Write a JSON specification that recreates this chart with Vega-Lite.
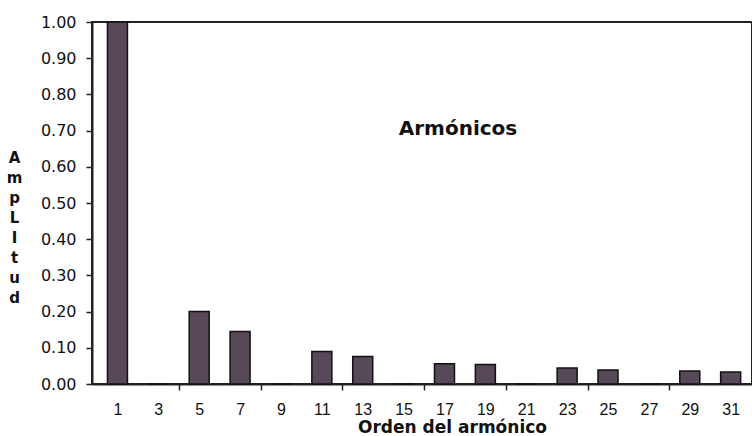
{
  "$schema": "https://vega.github.io/schema/vega-lite/v6.json",
  "width": 660,
  "height": 362,
  "autosize": {"type": "none"},
  "padding": {"left": 92, "top": 22, "right": 0, "bottom": 52},
  "background": "white",
  "title": {
    "text": "Armónicos",
    "font": "DejaVu Sans",
    "fontSize": 20,
    "fontWeight": "bold",
    "color": "#111",
    "anchor": "middle",
    "frame": "group",
    "dx": 36,
    "offset": -141,
    "baseline": "alphabetic"
  },
  "config": {"view": {"stroke": "#222", "strokeWidth": 2}},
  "data": {
    "values": [
      {"orden": 1, "amplitud": 1.0},
      {"orden": 3, "amplitud": 0},
      {"orden": 5, "amplitud": 0.20},
      {"orden": 7, "amplitud": 0.145},
      {"orden": 9, "amplitud": 0},
      {"orden": 11, "amplitud": 0.09},
      {"orden": 13, "amplitud": 0.076},
      {"orden": 15, "amplitud": 0},
      {"orden": 17, "amplitud": 0.056},
      {"orden": 19, "amplitud": 0.054},
      {"orden": 21, "amplitud": 0},
      {"orden": 23, "amplitud": 0.044},
      {"orden": 25, "amplitud": 0.039},
      {"orden": 27, "amplitud": 0},
      {"orden": 29, "amplitud": 0.036},
      {"orden": 31, "amplitud": 0.033}
    ]
  },
  "mark": {"type": "bar", "size": 20, "fill": "#574957", "stroke": "#111", "strokeWidth": 1.5},
  "encoding": {
    "x": {
      "field": "orden",
      "type": "quantitative",
      "scale": {"domain": [0, 31.8], "nice": false, "zero": false},
      "axis": {
        "values": [1, 3, 4, 5, 7, 8, 9, 11, 12, 13, 15, 16, 17, 19, 20, 21, 23, 24, 25, 27, 28, 29, 31],
        "labelExpr": "datum.value % 4 === 0 ? '' : datum.label",
        "tickOpacity": {"condition": {"test": "datum.value % 4 === 0", "value": 1}, "value": 0},
        "tickSize": 6,
        "tickWidth": 1.5,
        "tickColor": "#222",
        "domainColor": "#222",
        "domainWidth": 2,
        "grid": false,
        "labelFont": "Liberation Sans",
        "labelFontSize": 16,
        "labelColor": "#111",
        "labelPadding": 11,
        "labelOverlap": false,
        "labelFlush": false,
        "title": "Orden del armónico",
        "titleFont": "DejaVu Sans",
        "titleFontSize": 17,
        "titleFontWeight": "bold",
        "titleColor": "#111",
        "titleX": 360,
        "titleY": 43,
        "titleBaseline": "middle",
        "titleAlign": "center"
      }
    },
    "y": {
      "field": "amplitud",
      "type": "quantitative",
      "scale": {"domain": [0, 1], "nice": false},
      "axis": {
        "values": [0, 0.1, 0.2, 0.3, 0.4, 0.5, 0.6, 0.7, 0.8, 0.9, 1.0],
        "format": ".2f",
        "tickSize": 6,
        "tickWidth": 1.5,
        "tickColor": "#222",
        "domainColor": "#222",
        "domainWidth": 2,
        "grid": false,
        "labelFont": "DejaVu Sans",
        "labelFontSize": 16,
        "labelColor": "#111",
        "labelPadding": 10,
        "labelOverlap": false,
        "labelFlush": false,
        "title": ["A", "m", "p", "L", "I", "t", "u", "d"],
        "titleAngle": 0,
        "titleFont": "DejaVu Sans",
        "titleFontSize": 15,
        "titleFontWeight": "bold",
        "titleColor": "#111",
        "titleLineHeight": 20,
        "titleX": -78,
        "titleY": 135,
        "titleBaseline": "middle",
        "titleAlign": "center"
      }
    }
  }
}
